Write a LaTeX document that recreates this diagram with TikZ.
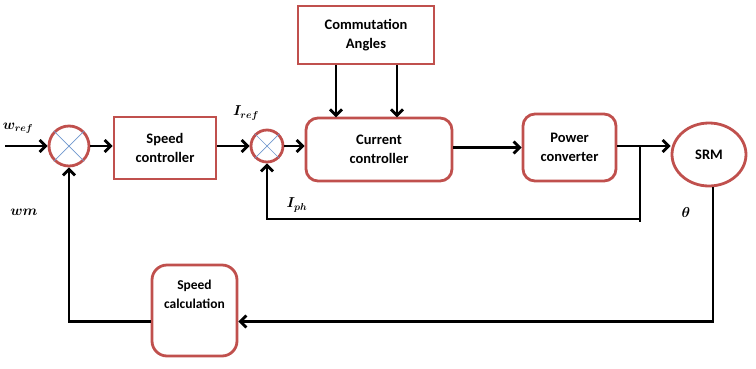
\documentclass[tikz,border=0pt]{standalone}
\usepackage{fontspec}
\setmainfont{Carlito}
\usepackage{amsmath,bm}
\usetikzlibrary{arrows.meta,calc,positioning,shapes.geometric}
\definecolor{boxred}{RGB}{192,80,77}
\definecolor{crossblue}{RGB}{110,150,205}
\begin{document}
\begin{tikzpicture}[
    x=1pt, y=-1pt,
    every node/.style={
        font=\fontsize{14.5}{19}\selectfont\bfseries,
        align=center
    },
    block/.style={
        draw=boxred, line width=2.8pt,
        inner sep=0pt
    },
    rblock/.style={
        block, rounded corners=12pt
    },
    summer/.style={
        draw=boxred, line width=2.8pt,
        circle, inner sep=0pt
    },
    crs/.style={draw=crossblue, line width=0.7pt},
    arr/.style={line width=2.8pt, -{Straight Barb[length=6pt,width=12pt]}},
    wire/.style={line width=2.8pt},
    sig/.style={font=\fontsize{14.5}{16}\selectfont\boldmath}
]
\useasboundingbox (0,0) rectangle (756,368);

% forward path
\node[summer, minimum size=40pt] (sum1) at (69,146) {};
\node[block, minimum width=102pt, minimum height=62pt] (spdctrl) at (165,148) {Speed\\controller};
\node[summer, minimum size=32pt] (sum2) at (267,146) {};
\node[rblock, minimum width=146pt, minimum height=63pt] (curctrl) at (379,149.5) {Current\\controller};
\node[block, minimum width=136pt, minimum height=58pt] (comm) at (366,35) {Commutation\\Angles};
\node[rblock, minimum width=93pt, minimum height=67pt] (pwrconv) at (569.5,147.5) {Power\\converter};
\node[draw=boxred, line width=2.8pt, ellipse, minimum width=74pt, minimum height=63pt, inner sep=0pt] (srm) at (709,154.5) {SRM};
\node[rblock, rounded corners=15pt, minimum width=85pt, minimum height=91pt, font=\fontsize{13.5}{19}\selectfont\bfseries] (spdcalc) at (194.5,310.5) {Speed\\calculation\\[14pt]};

% crosses in the summing junctions
\draw[crs] (sum1.north west) -- (sum1.south east);
\draw[crs] (sum1.north east) -- (sum1.south west);
\draw[crs] (sum2.north west) -- (sum2.south east);
\draw[crs] (sum2.north east) -- (sum2.south west);

% signals
\coordinate (win) at (5,146);
\draw[arr] (win) -- (sum1.west);
\draw[arr] (sum1.east) -- (spdctrl.west |- sum1.east);
\draw[arr] (spdctrl.east |- sum2.west) -- (sum2.west);
\draw[arr] (sum2.east) -- (curctrl.west |- sum2.east);
\draw[arr] (curctrl.east |- pwrconv.west) -- (pwrconv.west);
\draw[arr] (pwrconv.east |- 0,146) -- (srm.west |- 0,146);
\draw[arr] ([xshift=-30pt]comm.south) -- ++(0,52);
\draw[arr] ([xshift=31pt]comm.south) -- ++(0,52);

% current feedback
\coordinate (tap) at (640,146);
\draw[wire] (tap) -- ++(0,76);
\draw[arr] ($(tap)+(0,73)$) -| (sum2.south);

% speed feedback
\draw[arr] ([xshift=4pt]srm.south) |- ($(spdcalc.east)+(0,11)$);
\draw[arr] ($(spdcalc.west)+(0,11)$) -| (sum1.south);

% labels
\node[sig] (wref) at (18,128) {$w_{ref}$};
\node[sig] (wm) at (24,212) {$wm$};
\node[sig] (iref) at (246,113) {$I_{ref}$};
\node[sig] (iph) at (297,205) {$I_{ph}$};
\node[sig] (theta) at (686,212) {$\theta$};
\end{tikzpicture}
\end{document}
